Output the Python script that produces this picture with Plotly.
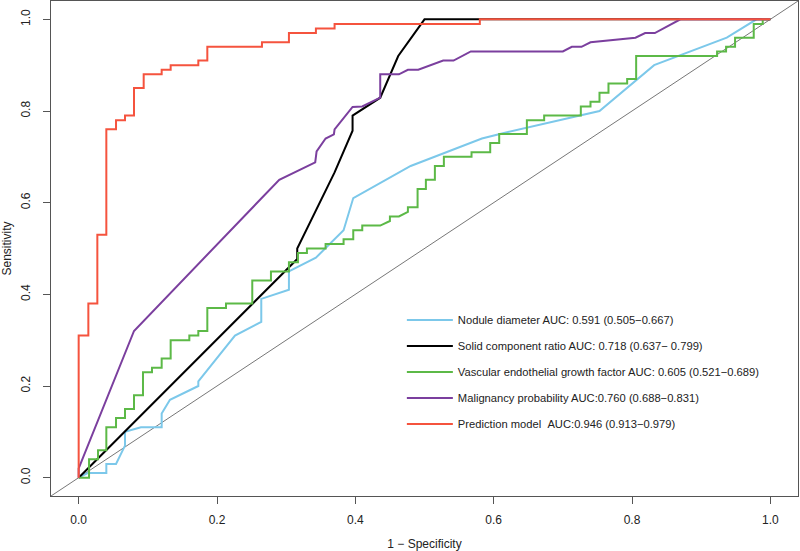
import plotly.graph_objects as go

# ---- data (1 - specificity, sensitivity) ----
nodule_fpr = [0, 0.013, 0.04, 0.04, 0.054, 0.067, 0.067, 0.09, 0.12, 0.12, 0.132, 0.173, 0.173,
              0.226, 0.264, 0.264, 0.304, 0.304, 0.343, 0.383, 0.397, 0.48, 0.583, 0.609, 0.753,
              0.832, 0.937, 0.98, 1.0]
nodule_tpr = [0, 0.01, 0.01, 0.03, 0.03, 0.07, 0.10, 0.11, 0.11, 0.14, 0.17, 0.20, 0.21,
              0.31, 0.34, 0.39, 0.41, 0.45, 0.48, 0.54, 0.61, 0.68, 0.74, 0.75, 0.80,
              0.90, 0.96, 1.0, 1.0]

solid_fpr = [0, 0.316, 0.316, 0.37, 0.396, 0.396, 0.436, 0.462, 0.50, 1.0]
solid_tpr = [0, 0.477, 0.50, 0.666, 0.757, 0.79, 0.829, 0.92, 1.0, 1.0]

vegf_fpr = [0, 0.015, 0.015, 0.028, 0.028, 0.04, 0.04, 0.054, 0.054, 0.067, 0.067, 0.08, 0.08,
            0.093, 0.093, 0.106, 0.106, 0.12, 0.12, 0.133, 0.133, 0.16, 0.16, 0.173, 0.173,
            0.186, 0.186, 0.213, 0.213, 0.251, 0.251, 0.278, 0.278, 0.304, 0.304, 0.317, 0.317,
            0.33, 0.33, 0.357, 0.357, 0.383, 0.383, 0.397, 0.397, 0.41, 0.41, 0.436, 0.45, 0.45,
            0.463, 0.476, 0.476, 0.49, 0.49, 0.502, 0.502, 0.515, 0.515, 0.528, 0.528, 0.568,
            0.568, 0.595, 0.595, 0.608, 0.608, 0.648, 0.648, 0.673, 0.673, 0.726, 0.726, 0.74,
            0.74, 0.753, 0.753, 0.766, 0.766, 0.793, 0.793, 0.806, 0.806, 0.923, 0.923, 0.936,
            0.936, 0.949, 0.949, 0.976, 0.976, 0.989, 0.989, 1.0]
vegf_tpr = [0, 0, 0.04, 0.04, 0.06, 0.06, 0.11, 0.11, 0.13, 0.13, 0.15, 0.15, 0.18,
            0.18, 0.23, 0.23, 0.24, 0.24, 0.26, 0.26, 0.30, 0.30, 0.31, 0.31, 0.32,
            0.32, 0.37, 0.37, 0.38, 0.38, 0.43, 0.43, 0.45, 0.45, 0.47, 0.47, 0.49,
            0.49, 0.50, 0.50, 0.51, 0.51, 0.52, 0.52, 0.54, 0.54, 0.55, 0.55, 0.56, 0.57,
            0.57, 0.58, 0.59, 0.59, 0.63, 0.63, 0.65, 0.65, 0.68, 0.68, 0.70, 0.70,
            0.71, 0.71, 0.73, 0.73, 0.75, 0.75, 0.78, 0.78, 0.79, 0.79, 0.81, 0.81,
            0.82, 0.82, 0.84, 0.84, 0.86, 0.86, 0.87, 0.87, 0.92, 0.92, 0.93, 0.93,
            0.94, 0.94, 0.96, 0.96, 0.99, 0.99, 1.0, 1.0]

malig_fpr = [0, 0, 0.08, 0.29, 0.342, 0.344, 0.357, 0.369, 0.37, 0.396, 0.41, 0.436, 0.436,
             0.463, 0.476, 0.491, 0.527, 0.542, 0.567, 0.70, 0.713, 0.727, 0.74, 0.805, 0.819,
             0.833, 0.87, 1.0]
malig_tpr = [0, 0.02, 0.32, 0.65, 0.688, 0.712, 0.74, 0.749, 0.76, 0.809, 0.81, 0.829, 0.88,
             0.88, 0.89, 0.89, 0.91, 0.91, 0.93, 0.93, 0.94, 0.94, 0.95, 0.96, 0.97,
             0.97, 1.0, 1.0]

# step points (horizontal then vertical)
pred_fpr = [0, 0, 0.014, 0.027, 0.04, 0.054, 0.067, 0.08, 0.094, 0.12, 0.133, 0.173, 0.186,
            0.265, 0.304, 0.343, 0.37, 0.58, 1.0]
pred_tpr = [0, 0.31, 0.38, 0.53, 0.76, 0.78, 0.79, 0.85, 0.88, 0.89, 0.90, 0.91, 0.94,
            0.95, 0.97, 0.98, 0.99, 1.0, 1.0]

names = [
    "Nodule diameter AUC:\u00a00.591 (0.505\u22120.667)",
    "Solid component ratio AUC:\u00a00.718 (0.637\u2212\u00a00.799)",
    "Vascular endothelial growth factor AUC:\u00a00.605 (0.521\u22120.689)",
    "Malignancy probability AUC:0.760 (0.688\u22120.831)",
    "Prediction model\u00a0\u00a0AUC:0.946 (0.913\u22120.979)",
]
colors = ["#7CC8EA", "#000000", "#5CB947", "#7B3F9E", "#F5533E"]
ticks = [0.0, 0.2, 0.4, 0.6, 0.8, 1.0]
tick_text = ["0.0", "0.2", "0.4", "0.6", "0.8", "1.0"]
axis_range = [-0.04, 1.04]

series = [
    (nodule_fpr, nodule_tpr, "linear"),
    (solid_fpr, solid_tpr, "linear"),
    (vegf_fpr, vegf_tpr, "linear"),
    (malig_fpr, malig_tpr, "linear"),
    (pred_fpr, pred_tpr, "hv"),
]

fig = go.Figure()
for i, ((xs, ys, shape), nm, col) in enumerate(zip(series, names, colors)):
    fig.add_trace(go.Scatter(
        x=xs, y=ys, mode="lines", name=nm, legendgroup=f"g{i}",
        line=dict(color=col, width=2, shape=shape),
    ))

# chance diagonal
fig.add_shape(type="line", xref="x", yref="y",
              x0=axis_range[0], y0=axis_range[0], x1=axis_range[1], y1=axis_range[1],
              line=dict(color="#777777", width=1), layer="below")

font_main = dict(family="Liberation Sans, Arial", size=12, color="#222222")
font_legend = dict(family="Liberation Sans, Arial", size=11.2, color="#222222")
axis_common = dict(
    range=axis_range, tickvals=ticks, ticktext=tick_text, automargin=False,
    showgrid=False, zeroline=False, showline=True, mirror=True,
    linecolor="#555555", linewidth=1, ticks="outside", ticklen=7,
    tickcolor="#555555", tickfont=font_main,
)
fig.update_xaxes(**axis_common, ticklabelstandoff=6,
                 title=dict(text="1 \u2212 Specificity", standoff=13, font=font_main))
fig.update_yaxes(**axis_common, tickangle=-90, ticklabelstandoff=8,
                 title=dict(text="Sensitivity", standoff=8, font=font_main))

fig.update_layout(
    width=800, height=551,
    margin=dict(l=51, r=2, t=1, b=55, autoexpand=False),
    paper_bgcolor="white", plot_bgcolor="white",
    showlegend=True,
    legend=dict(x=0.4697, y=0.385, xanchor="left", yanchor="top",
                bgcolor="rgba(0,0,0,0)", tracegroupgap=7, itemwidth=46,
                font=font_legend),
)

fig.write_html("out.html", config={"displayModeBar": False},
               post_script="document.body.style.margin='0';document.body.style.overflow='hidden';")
